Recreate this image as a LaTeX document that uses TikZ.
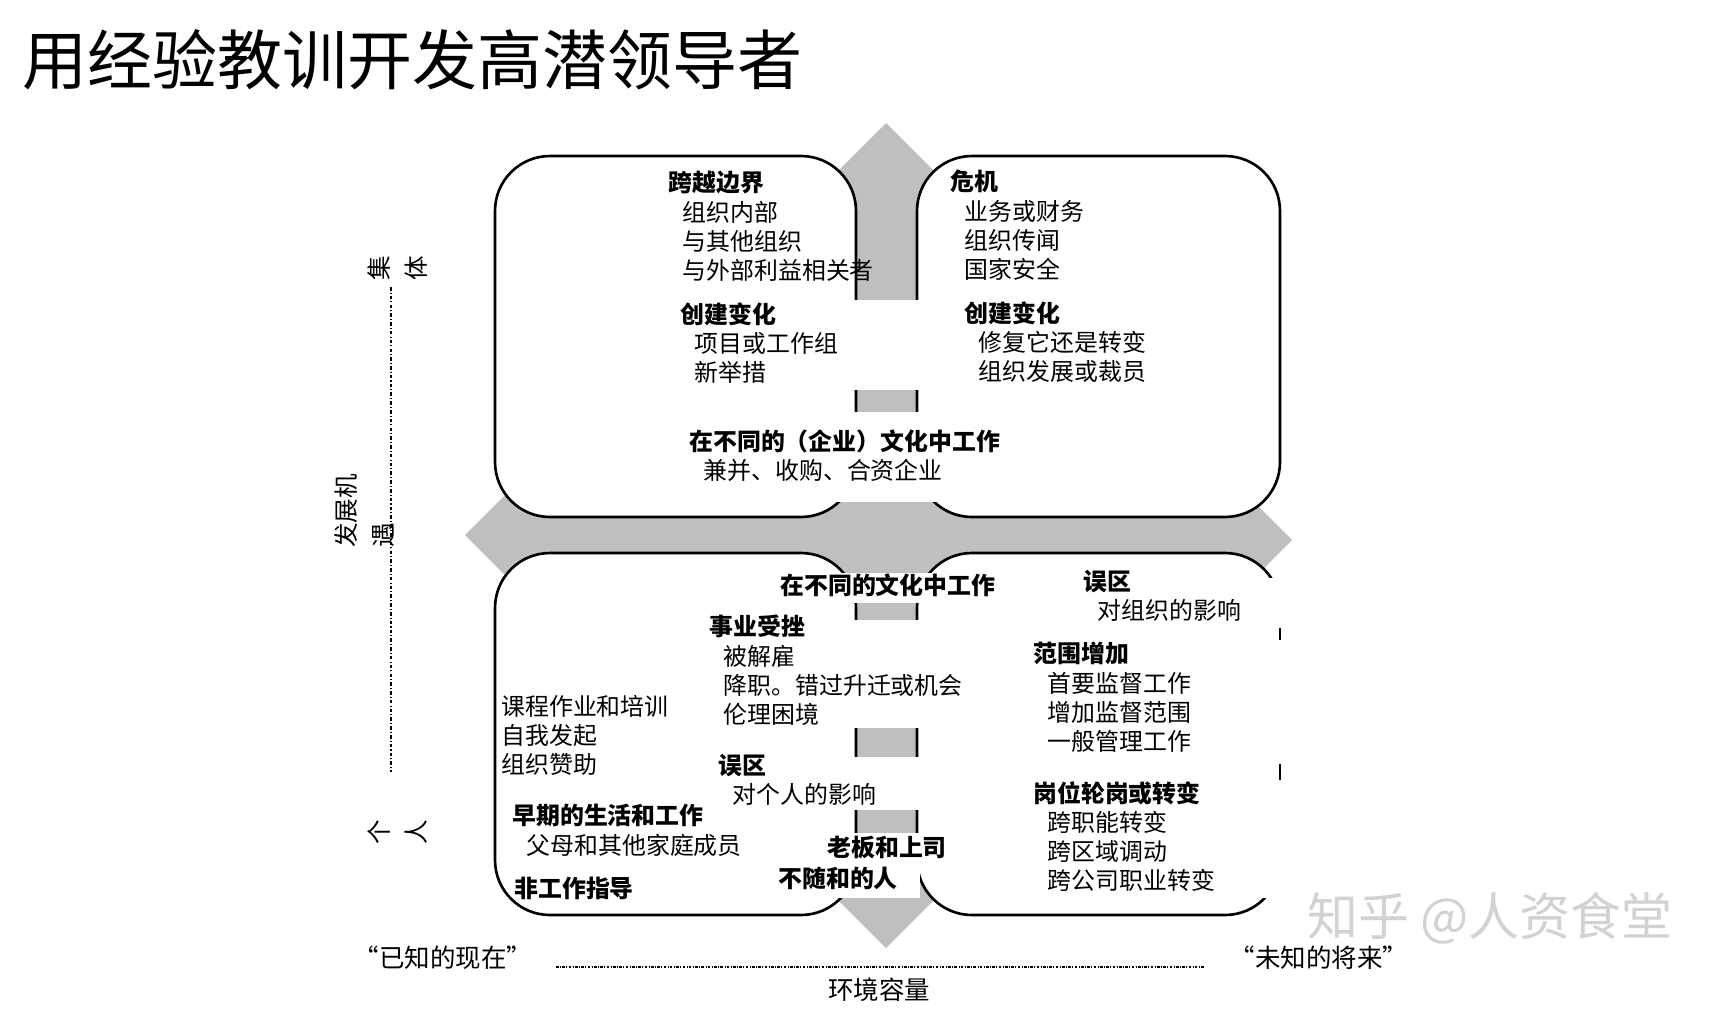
\documentclass[tikz,border=0pt]{standalone}
\usepackage{fontspec}
\newfontfamily\cjk{Noto Sans CJK SC}
\usetikzlibrary{positioning}
\newcommand{\sj}{\hspace*{0.6em}}

\begin{document}
\begin{tikzpicture}[x=0.02cm, y=-0.02cm,
    box/.style={draw=black, line width=1.5pt, fill=white, rounded corners=1.1cm},
    arrowfill/.style={fill=gray!50},
    cover/.style={fill=white},
    blk/.style={anchor=north west, inner sep=0pt, align=left, font=\cjk\fontsize{13.6}{16.6}\selectfont},
    hd/.style={anchor=west, inner sep=0pt, font=\cjk\bfseries\fontsize{13.6}{16.6}\selectfont},
    axlabel/.style={inner sep=0pt, rotate=90, font=\cjk\fontsize{14}{21}\selectfont},
    foot/.style={inner sep=0pt, font=\cjk\fontsize{14.5}{17}\selectfont}]
    \useasboundingbox (0,0) rectangle (1716,1009);
    % 标题
    \node[anchor=west, inner sep=0pt, font=\cjk\fontsize{37}{40}\selectfont] (title) at (22,60) {用经验教训开发高潜领导者};
    % 灰色十字箭头
    \fill[arrowfill] (856,171) rectangle (917,900);
    \fill[arrowfill] (505,517) rectangle (1252,553);
    \fill[arrowfill] (800,460) rectangle (975,610);
    \fill[arrowfill] (886,123) -- (934,171) -- (934,230) -- (838,230) -- (838,171) -- cycle;
    \fill[arrowfill] (886,948) -- (934,900) -- (934,840) -- (838,840) -- (838,900) -- cycle;
    \fill[arrowfill] (465,535) -- (510,490) -- (570,490) -- (570,580) -- (510,580) -- cycle;
    \fill[arrowfill] (1292,540) -- (1252,500) -- (1200,500) -- (1200,580) -- (1252,580) -- cycle;
    % 四个圆角框
    \draw[box] (495,156) rectangle (856,517);
    \draw[box] (917,156) rectangle (1280,517);
    \draw[box] (495,553) rectangle (856,915);
    \draw[box] (917,553) rectangle (1280,915);
    % 文字底色
    \fill[cover] (850,300) rectangle (923,390);
    \fill[cover] (820,412) rectangle (952,502);
    \fill[cover] (840,573) rectangle (945,603);
    \fill[cover] (840,620) rectangle (945,728);
    \fill[cover] (840,757) rectangle (945,810);
    \fill[cover] (775,833) rectangle (920,898);
    \fill[cover] (920,833) rectangle (945,860);
    \fill[cover] (1262,578) rectangle (1295,898);
    \draw[line width=1.5pt] (1280,628) -- (1280,640);
    \draw[line width=1.5pt] (1280,764) -- (1280,780);
    % 上方：集体
    \node[blk] (kuayue) at (668,171) {\textbf{跨越边界}\\\sj 组织内部\\\sj 与其他组织\\\sj 与外部利益相关者};
    \node[blk] (chuangjian1) at (680,302) {\textbf{创建变化}\\\sj 项目或工作组\\\sj 新举措};
    \node[blk] (weiji) at (950,170) {\textbf{危机}\\\sj 业务或财务\\\sj 组织传闻\\\sj 国家安全};
    \node[blk] (chuangjian2) at (964,301) {\textbf{创建变化}\\\sj 修复它还是转变\\\sj 组织发展或裁员};
    \node[blk] (qiye) at (689,429) {\textbf{在不同的（企业）文化中工作}\\\sj 兼并、收购、合资企业};
    % 下方：个人
    \node[hd] (wenhua) at (780,585) {在不同的文化中工作};
    \node[blk] (wuqu1) at (1083,570) {\textbf{误区}\\\sj 对组织的影响};
    \node[blk] (cuozhe) at (709,615) {\textbf{事业受挫}\\\sj 被解雇\\\sj 降职。错过升迁或机会\\\sj 伦理困境};
    \node[blk] (kecheng) at (501,695) {课程作业和培训\\自我发起\\组织赞助};
    \node[blk] (wuqu2) at (718,754) {\textbf{误区}\\\sj 对个人的影响};
    \node[blk] (fanwei) at (1033,642) {\textbf{范围增加}\\\sj 首要监督工作\\\sj 增加监督范围\\\sj 一般管理工作};
    \node[blk] (gangwei) at (1033,781) {\textbf{岗位轮岗或转变}\\\sj 跨职能转变\\\sj 跨区域调动\\\sj 跨公司职业转变};
    \node[blk] (zaoqi) at (512,804) {\textbf{早期的生活和工作}\\\sj 父母和其他家庭成员};
    \node[hd] (feigongzuo) at (514,888) {非工作指导};
    \node[hd] (laoban) at (827,847) {老板和上司};
    \node[hd] (busuihe) at (778,878) {不随和的人};
    % 纵轴
    \coordinate (vtop) at (391,287);
    \coordinate (vbot) at (391,772);
    \draw[line width=0.6pt, dash pattern=on 2pt off 1.2pt on 0.6pt off 1.2pt] (vtop) -- (vbot);
    \node[axlabel, align=center] (jiti) at (398,268) {集\\体};
    \node[axlabel, align=left] (jiyu) at (365,511) {发展机\\遇};
    \node[axlabel, align=center] (geren) at (398,832) {个\\人};
    % 横轴
    \coordinate (hleft) at (556,967);
    \coordinate (hright) at (1204,967);
    \draw[line width=0.6pt, dash pattern=on 1.5pt off 0.8pt on 0.5pt off 0.8pt] (hleft) -- (hright);
    \node[foot] (xianzai) at (443,958) {“已知的现在”};
    \node[foot] (jianglai) at (1319,958) {“未知的将来”};
    \node[foot] (rongliang) at (879,990) {环境容量};
    % 水印
    \node[inner sep=0pt, text=gray!35, font=\cjk\fontsize{29}{32}\selectfont] (shuiyin) at (1490,918) {知乎 @人资食堂};
\end{tikzpicture}
\end{document}
